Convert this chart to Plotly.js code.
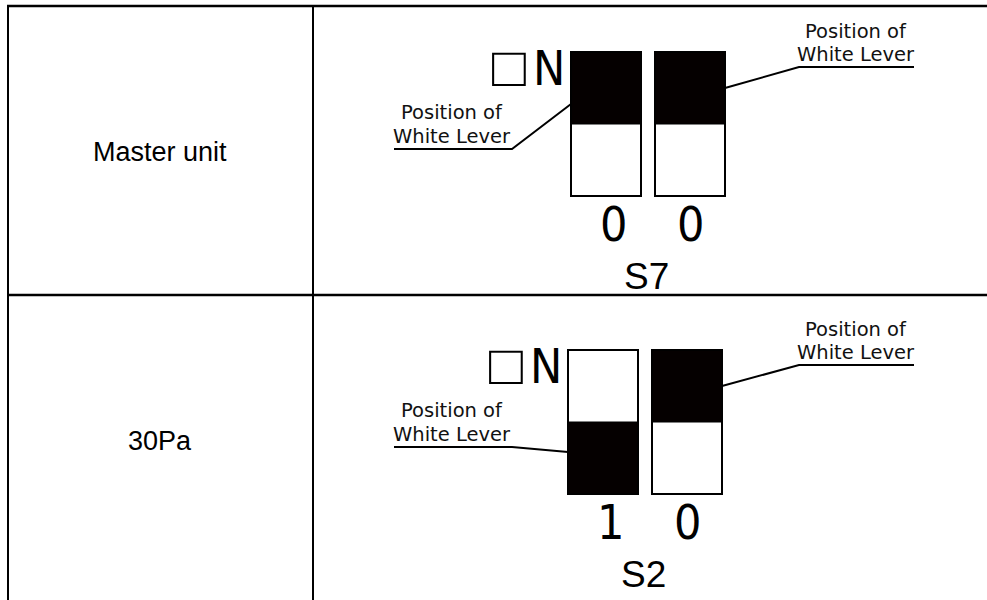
<!DOCTYPE html>
<html>
<head>
<meta charset="utf-8">
<script src="https://cdn.plot.ly/plotly-3.0.1.min.js"></script>
<style>html,body{margin:0;padding:0;background:#fff;}#chart{width:987px;height:600px;}</style>
</head>
<body>
<div id="chart"></div>
<script>
// ---- data ----
const rowLabels = ["Master unit", "30Pa"];
const switchNames = ["S7", "S2"];
const switchBits = [["0", "0"], ["1", "0"]];
const onLabel = ["\u25A1", "N"];
const calloutLines = ["Position of", "White Lever"];

// ---- geometry (pixel-like data units) ----
const rowTop = [6, 295];
const swBaseX = [571, 568];
const swBaseY = [52, 350];
const swW = 70, swH = 144, swGap = 14;
const leftLeaderDy = [52, 102];

const shapes = [];
const ann = [];
const lineBlack = {color: "#000", width: 2.5};
const thinFont = "Liberation Sans Narrow, DejaVu Sans Condensed, DejaVu Sans, sans-serif";

// table grid
shapes.push({type: "line", xref: "x", yref: "y", x0: 7, x1: 987, y0: rowTop[0], y1: rowTop[0], line: lineBlack});
shapes.push({type: "line", xref: "x", yref: "y", x0: 7, x1: 987, y0: rowTop[1], y1: rowTop[1], line: lineBlack});
shapes.push({type: "line", xref: "x", yref: "y", x0: 8, x1: 8, y0: 5, y1: 600, line: {color: "#000", width: 2}});
shapes.push({type: "line", xref: "x", yref: "y", x0: 313, x1: 313, y0: 5, y1: 600, line: {color: "#000", width: 2}});

rowLabels.forEach((lab, r) => {
  const bx = swBaseX[r], by = swBaseY[r];
  // row label
  ann.push({x: 160, y: rowTop[r] + 146, xref: "x", yref: "y", text: lab, showarrow: false,
    xanchor: "center", yanchor: "middle",
    font: {family: "Liberation Sans, Arial, sans-serif", size: 27, color: "#000"}});
  // ON label
  ann.push({x: bx - 62, y: by + 14, xref: "x", yref: "y", text: onLabel[0], showarrow: false,
    xanchor: "center", yanchor: "middle",
    font: {family: "DejaVu Sans, sans-serif", size: 56, color: "#000", weight: 300}});
  ann.push({x: bx - 4, y: by + 16, xref: "x", yref: "y", text: onLabel[1], showarrow: false,
    xanchor: "right", yanchor: "middle",
    font: {family: thinFont, size: 48, color: "#000", weight: 300}});
  // switches
  switchBits[r].forEach((bit, i) => {
    const x0 = bx + i * (swW + swGap), x1 = x0 + swW;
    const blackTop = bit === "0";
    const by0 = blackTop ? by : by + swH / 2;
    shapes.push({type: "rect", xref: "x", yref: "y", x0: x0, x1: x1, y0: by0, y1: by0 + swH / 2,
      fillcolor: "#050000", line: {color: "#000", width: 1}});
    shapes.push({type: "rect", xref: "x", yref: "y", x0: x0, x1: x1, y0: by, y1: by + swH,
      fillcolor: "rgba(0,0,0,0)", line: {color: "#000", width: 2}});
    ann.push({x: (x0 + x1) / 2 + (i === 0 ? 7 : 0), y: by + 172, xref: "x", yref: "y", text: bit, showarrow: false,
      xanchor: "center", yanchor: "middle",
      font: {family: thinFont, size: 48, color: "#000", weight: 300}});
  });
  // switch name
  ann.push({x: bx + swW + swGap / 2 - 2, y: by + 224, xref: "x", yref: "y", text: switchNames[r], showarrow: false,
    xanchor: "center", yanchor: "middle",
    font: {family: "Liberation Sans, Arial, sans-serif", size: 37, color: "#000"}});
  // left callout
  ann.push({x: 452, y: by + 60, xref: "x", yref: "y", text: calloutLines[0], showarrow: false,
    xanchor: "center", yanchor: "middle",
    font: {family: "DejaVu Sans, sans-serif", size: 19.5, color: "#111"}});
  ann.push({x: 452, y: by + 84, xref: "x", yref: "y", text: calloutLines[1], showarrow: false,
    xanchor: "center", yanchor: "middle",
    font: {family: "DejaVu Sans, sans-serif", size: 19.5, color: "#111"}});
  shapes.push({type: "path", xref: "x", yref: "y",
    path: `M 394 ${by + 97} L 512 ${by + 97} L ${bx} ${by + leftLeaderDy[r]}`,
    line: {color: "#000", width: 2}});
  // right callout
  const rx = bx + 2 * swW + swGap;
  ann.push({x: 856, y: by - 21, xref: "x", yref: "y", text: calloutLines[0], showarrow: false,
    xanchor: "center", yanchor: "middle",
    font: {family: "DejaVu Sans, sans-serif", size: 19.5, color: "#111"}});
  ann.push({x: 856, y: by + 2, xref: "x", yref: "y", text: calloutLines[1], showarrow: false,
    xanchor: "center", yanchor: "middle",
    font: {family: "DejaVu Sans, sans-serif", size: 19.5, color: "#111"}});
  shapes.push({type: "path", xref: "x", yref: "y",
    path: `M 914 ${by + 15} L 799 ${by + 15} L ${rx} ${by + 36}`,
    line: {color: "#000", width: 2}});
});

const layout = {
  width: 987, height: 600,
  margin: {l: 0, r: 0, t: 0, b: 0},
  paper_bgcolor: "#fff", plot_bgcolor: "#fff",
  xaxis: {range: [0, 987], visible: false, fixedrange: true},
  yaxis: {range: [600, 0], visible: false, fixedrange: true},
  showlegend: false,
  shapes: shapes,
  annotations: ann
};
Plotly.newPlot("chart", [{x: [], y: [], type: "scatter", mode: "markers"}], layout, {displayModeBar: false, staticPlot: true});
</script>
</body>
</html>
